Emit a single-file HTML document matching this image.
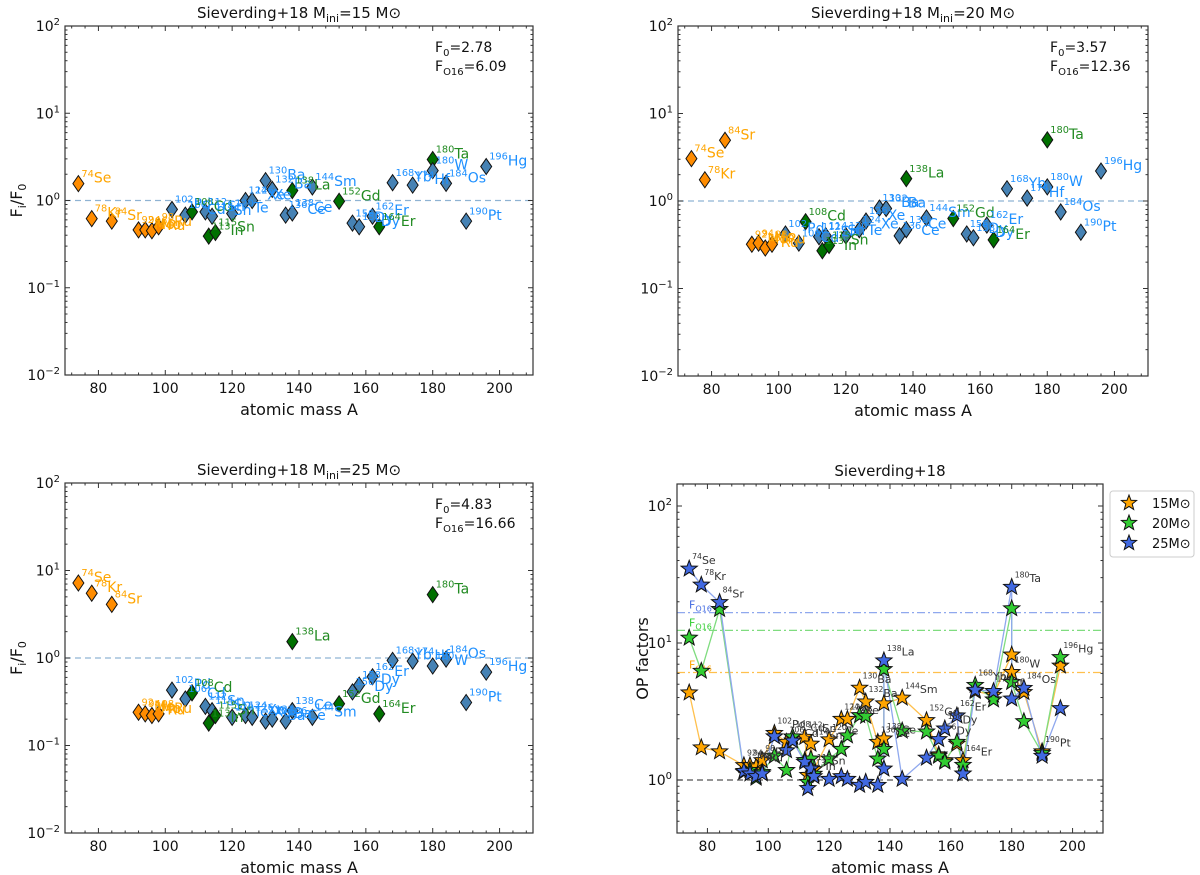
<!DOCTYPE html>
<html><head><meta charset="utf-8">
<style>
html,body{margin:0;padding:0;background:#fff;}
svg{display:block;font-family:"DejaVu Sans","Liberation Sans",sans-serif;}
</style></head>
<body>
<svg id="fig" width="1200" height="875" viewBox="0 0 1200 875" xmlns="http://www.w3.org/2000/svg"></svg>
<script>
const isoMass = [74,78,84,92,94,96,98,102,106,108,112,113,114,115,120,124,126,130,132,136,138,138,144,152,156,158,162,164,168,174,180,180,184,190,196];
const isoElem = ["Se","Kr","Sr","Mo","Mo","Ru","Ru","Pd","Cd","Cd","Sn","In","Sn","Sn","Te","Xe","Xe","Ba","Ba","Ce","Ce","La","Sm","Gd","Dy","Dy","Er","Er","Yb","Hf","Ta","W","Os","Pt","Hg"];
const isoGroup = ["o","o","o","o","o","o","o","b","b","g","b","g","b","g","b","b","b","b","b","b","b","g","b","g","b","b","b","g","b","b","g","b","b","b","b"];
const ratio15 = [1.56,0.62,0.58,0.46,0.46,0.45,0.50,0.79,0.68,0.74,0.74,0.39,0.66,0.43,0.71,1.0,1.0,1.69,1.34,0.68,0.72,1.3,1.43,0.98,0.55,0.50,0.66,0.50,1.6,1.5,2.95,2.2,1.57,0.58,2.45];
const ratio20 = [3.05,1.75,4.94,0.32,0.33,0.29,0.32,0.42,0.33,0.58,0.39,0.27,0.40,0.31,0.40,0.47,0.59,0.83,0.82,0.40,0.47,1.8,0.64,0.63,0.42,0.38,0.53,0.36,1.38,1.08,5.0,1.45,0.75,0.44,2.2];
const ratio25 = [7.2,5.5,4.1,0.24,0.23,0.22,0.23,0.43,0.34,0.40,0.28,0.18,0.25,0.22,0.21,0.22,0.21,0.19,0.20,0.19,0.25,1.54,0.21,0.30,0.41,0.49,0.61,0.23,0.94,0.92,5.3,0.81,0.97,0.31,0.69];
const massLabels = ["15","20","25"];
const F0vals = [2.78,3.57,4.83];
const FO16vals = [6.09,12.36,16.66];
const xTicks = [80,100,120,140,160,180,200];

const NS="http://www.w3.org/2000/svg";
const svg=document.getElementById('fig');
function mk(tag,attrs,parent){const e=document.createElementNS(NS,tag);for(const k in attrs)e.setAttribute(k,attrs[k]);(parent||svg).appendChild(e);return e;}
const fillCol={o:"#ff8c00",g:"#007000",b:"#4682b4"};
const txtCol={o:"#ffa500",g:"#228b22",b:"#1e90ff"};

function makePanel(p){
  const g=mk('g',{});
  
  
  p.g=g;
  p.sx=a=>p.x0+(a-70)/(210-70)*(p.x1-p.x0);
  p.sy=v=>p.y1-(Math.log10(v)-p.lmin)/(p.lmax-p.lmin)*(p.y1-p.y0);
  return p;
}
function drawAxes(p,yTicksExp){
  const g=p.g;
  const fr=mk('rect',{x:p.x0,y:p.y0,width:p.x1-p.x0,height:p.y1-p.y0,fill:'none',stroke:'#333','stroke-width':1.2},g);
  
  
  // x ticks
  for(let a=72;a<=210;a+=4){
    const major=(a%20===0);
    const L=major?5:2.5, x=p.sx(a);
    mk('line',{x1:x,x2:x,y1:p.y1,y2:p.y1-L,stroke:'#333'},g);
    mk('line',{x1:x,x2:x,y1:p.y0,y2:p.y0+L,stroke:'#333'},g);
  }
  xTicks.forEach(a=>{
    const t=mk('text',{x:p.sx(a),y:p.y1+18,'font-size':14,'text-anchor':'middle',fill:'#111'},g);
    t.textContent=a;
    
    
  });
  // y ticks
  for(let e=Math.floor(p.lmin);e<=Math.ceil(p.lmax);e++){
    for(let m=1;m<10;m++){
      const lv=e+Math.log10(m);
      if(lv<p.lmin-1e-6||lv>p.lmax+1e-6)continue;
      const y=p.sy(Math.pow(10,lv)), L=m===1?5:2.5;
      mk('line',{x1:p.x0,x2:p.x0+L,y1:y,y2:y,stroke:'#333'},g);
      mk('line',{x1:p.x1,x2:p.x1-L,y1:y,y2:y,stroke:'#333'},g);
    }
  }
  yTicksExp.forEach(e=>{
    const t=mk('text',{x:p.x0-5,y:p.sy(Math.pow(10,e))+5,'font-size':14,'text-anchor':'end',fill:'#111'},g);
    
    
    const a=mk('tspan',{},t);a.textContent='10';
    const b=mk('tspan',{dy:-6,'font-size':10},t);b.textContent=(e<0?'\u2212'+(-e):e);
  });
  const xl=mk('text',{x:(p.x0+p.x1)/2,y:p.y1+40,'font-size':16,'text-anchor':'middle',fill:'#111'},g);
  xl.textContent='atomic mass A';
  
  
}
function title(p,mass){
  const t=mk('text',{x:(p.x0+p.x1)/2,y:p.y0-8,'font-size':15,'text-anchor':'middle',fill:'#111'},p.g);
  
  
  if(mass===null){t.textContent='Sieverding+18';return;}
  const a=mk('tspan',{},t);a.textContent='Sieverding+18 M';
  const b=mk('tspan',{dy:4,'font-size':11},t);b.textContent='ini';
  const c=mk('tspan',{dy:-4},t);c.textContent='='+mass+' M\u2299';
}
function ylabel(p,txt,x){
  const t=mk('text',{x:x,y:(p.y0+p.y1)/2,'font-size':16,'text-anchor':'middle',fill:'#111',transform:`rotate(-90 ${x} ${(p.y0+p.y1)/2})`},p.g);
  
  
  if(txt==='F'){
    const a=mk('tspan',{},t);a.textContent='F';
    const b=mk('tspan',{dy:4,'font-size':11},t);b.textContent='i';
    const c=mk('tspan',{dy:-4},t);c.textContent='/F';
    const d=mk('tspan',{dy:4,'font-size':11},t);d.textContent='0';
  } else t.textContent=txt;
}
function isoLabel(g,x,y,i,fs,col){
  const t=mk('text',{x:x,y:y,'font-size':fs,fill:col},g);
  
  
  const a=mk('tspan',{dy:-fs*0.42,'font-size':fs*0.7},t);a.textContent=isoMass[i];
  const b=mk('tspan',{dy:fs*0.42},t);b.textContent=isoElem[i];
}

const ratios=[ratio15,ratio20,ratio25];
const panelDefs=[
  {name:'panel-15msun',x0:65,x1:533,y0:26,y1:375},
  {name:'panel-20msun',x0:678,x1:1148,y0:26,y1:376},
  {name:'panel-25msun',x0:65,x1:533,y0:483,y1:833}
];
panelDefs.forEach((d,k)=>{
  const p=makePanel(Object.assign({lmin:-2,lmax:2},d));
  const g=p.g;
  const ref=mk('line',{x1:p.x0,x2:p.x1,y1:p.sy(1),y2:p.sy(1),stroke:'#8fb3d3','stroke-width':1.2,'stroke-dasharray':'6,4'},g);
  
  
  const vals=ratios[k];
  vals.forEach((v,i)=>{
    const x=p.sx(isoMass[i]), y=p.sy(v);
    const dm=mk('path',{d:`M${x},${y-8} L${x+5.5},${y} L${x},${y+8} L${x-5.5},${y} Z`,fill:fillCol[isoGroup[i]],stroke:'#111','stroke-width':1},g);
    
    
  });
  vals.forEach((v,i)=>{isoLabel(g,p.sx(isoMass[i])+3,p.sy(v)-1,i,14,txtCol[isoGroup[i]]);});
  drawAxes(p,[-2,-1,0,1,2]);
  title(p,massLabels[k]);
  if(k!==1) ylabel(p,'F',p.x0-43);
  const t1=mk('text',{x:p.x1-98,y:p.y0+26,'font-size':14,fill:'#111'},g);
  
  
  let a=mk('tspan',{},t1);a.textContent='F';
  a=mk('tspan',{dy:4,'font-size':10},t1);a.textContent='0';
  a=mk('tspan',{dy:-4},t1);a.textContent='='+F0vals[k].toFixed(2);
  const t2=mk('text',{x:p.x1-98,y:p.y0+45,'font-size':14,fill:'#111'},g);
  
  
  a=mk('tspan',{},t2);a.textContent='F';
  a=mk('tspan',{dy:4,'font-size':10},t2);a.textContent='O16';
  a=mk('tspan',{dy:-4},t2);a.textContent='='+FO16vals[k].toFixed(2);
});

// Panel 4 OP factors
const p4=makePanel({name:'panel-op-factors',x0:677,x1:1103,y0:484,y1:833,lmin:-53/137,lmax:296/137});
const starFill=["#ffa500","#32cd32","#4169e1"];
const lineCol=["#ffc04d","#7fdc7f","#8fa8ee"];
const g4=p4.g;
const clip=mk('clipPath',{id:'c4'},g4);
mk('rect',{x:p4.x0,y:p4.y0,width:p4.x1-p4.x0,height:p4.y1-p4.y0},clip);
const inner=mk('g',{'clip-path':'url(#c4)'},g4);
const one=mk('line',{x1:p4.x0,x2:p4.x1,y1:p4.sy(1),y2:p4.sy(1),stroke:'#555','stroke-width':1.2,'stroke-dasharray':'6,4'},inner);


FO16vals.forEach((f,k)=>{
  const y=p4.sy(f);
  const l=mk('line',{x1:p4.x0,x2:p4.x1,y1:y,y2:y,stroke:lineCol[k],'stroke-width':1.2,'stroke-dasharray':'8,3,2,3'},inner);
  
  
  const t=mk('text',{x:p4.x0+12,y:y-4,'font-size':11,fill:k===0?'#ffa500':(k===1?'#32cd32':'#4169e1')},inner);
  
  
  let a=mk('tspan',{},t);a.textContent='F';
  a=mk('tspan',{dy:3,'font-size':8},t);a.textContent='O16';
});
function starPath(x,y,R){
  const r=R*0.42;let d='';
  for(let j=0;j<10;j++){const ang=-Math.PI/2+j*Math.PI/5, rr=j%2?r:R;d+=(j?'L':'M')+(x+rr*Math.cos(ang)).toFixed(1)+','+(y+rr*Math.sin(ang)).toFixed(1);}
  return d+'Z';
}
const opSeries=ratios.map((r,k)=>r.map(v=>v*F0vals[k]));
opSeries.forEach((s,k)=>{
  const pts=s.map((v,i)=>p4.sx(isoMass[i]).toFixed(1)+','+p4.sy(v).toFixed(1)).join(' ');
  const pl=mk('polyline',{points:pts,fill:'none',stroke:lineCol[k],'stroke-width':1.3},inner);
  
  
});
opSeries.forEach((s,k)=>{
  s.forEach((v,i)=>{
    const st=mk('path',{d:starPath(p4.sx(isoMass[i]),p4.sy(v),8.5),fill:starFill[k],stroke:'#111','stroke-width':1},inner);
    
    
  });
});
isoMass.forEach((m,i)=>{
  const mx=Math.max(opSeries[0][i],opSeries[1][i],opSeries[2][i]);
  isoLabel(inner,p4.sx(m)+3,p4.sy(mx)-5,i,11,'#333');
});
drawAxes(p4,[0,1,2]);
title(p4,null);
ylabel(p4,'OP factors',p4.x0-29);
// legend
const lg=mk('g',{},svg);


mk('rect',{x:1110,y:491,width:84,height:66,rx:3,fill:'#fff',stroke:'#ccc'},lg);
massLabels.forEach((m,k)=>{
  const y=503+k*20;
  const e=mk('g',{},lg);
  
  
  mk('path',{d:starPath(1129,y,8),fill:starFill[k],stroke:'#111','stroke-width':1},e);
  const t=mk('text',{x:1152,y:y+5,'font-size':13,fill:'#111'},e);
  t.textContent=m+'M\u2299';
});
</script>
</body></html>
